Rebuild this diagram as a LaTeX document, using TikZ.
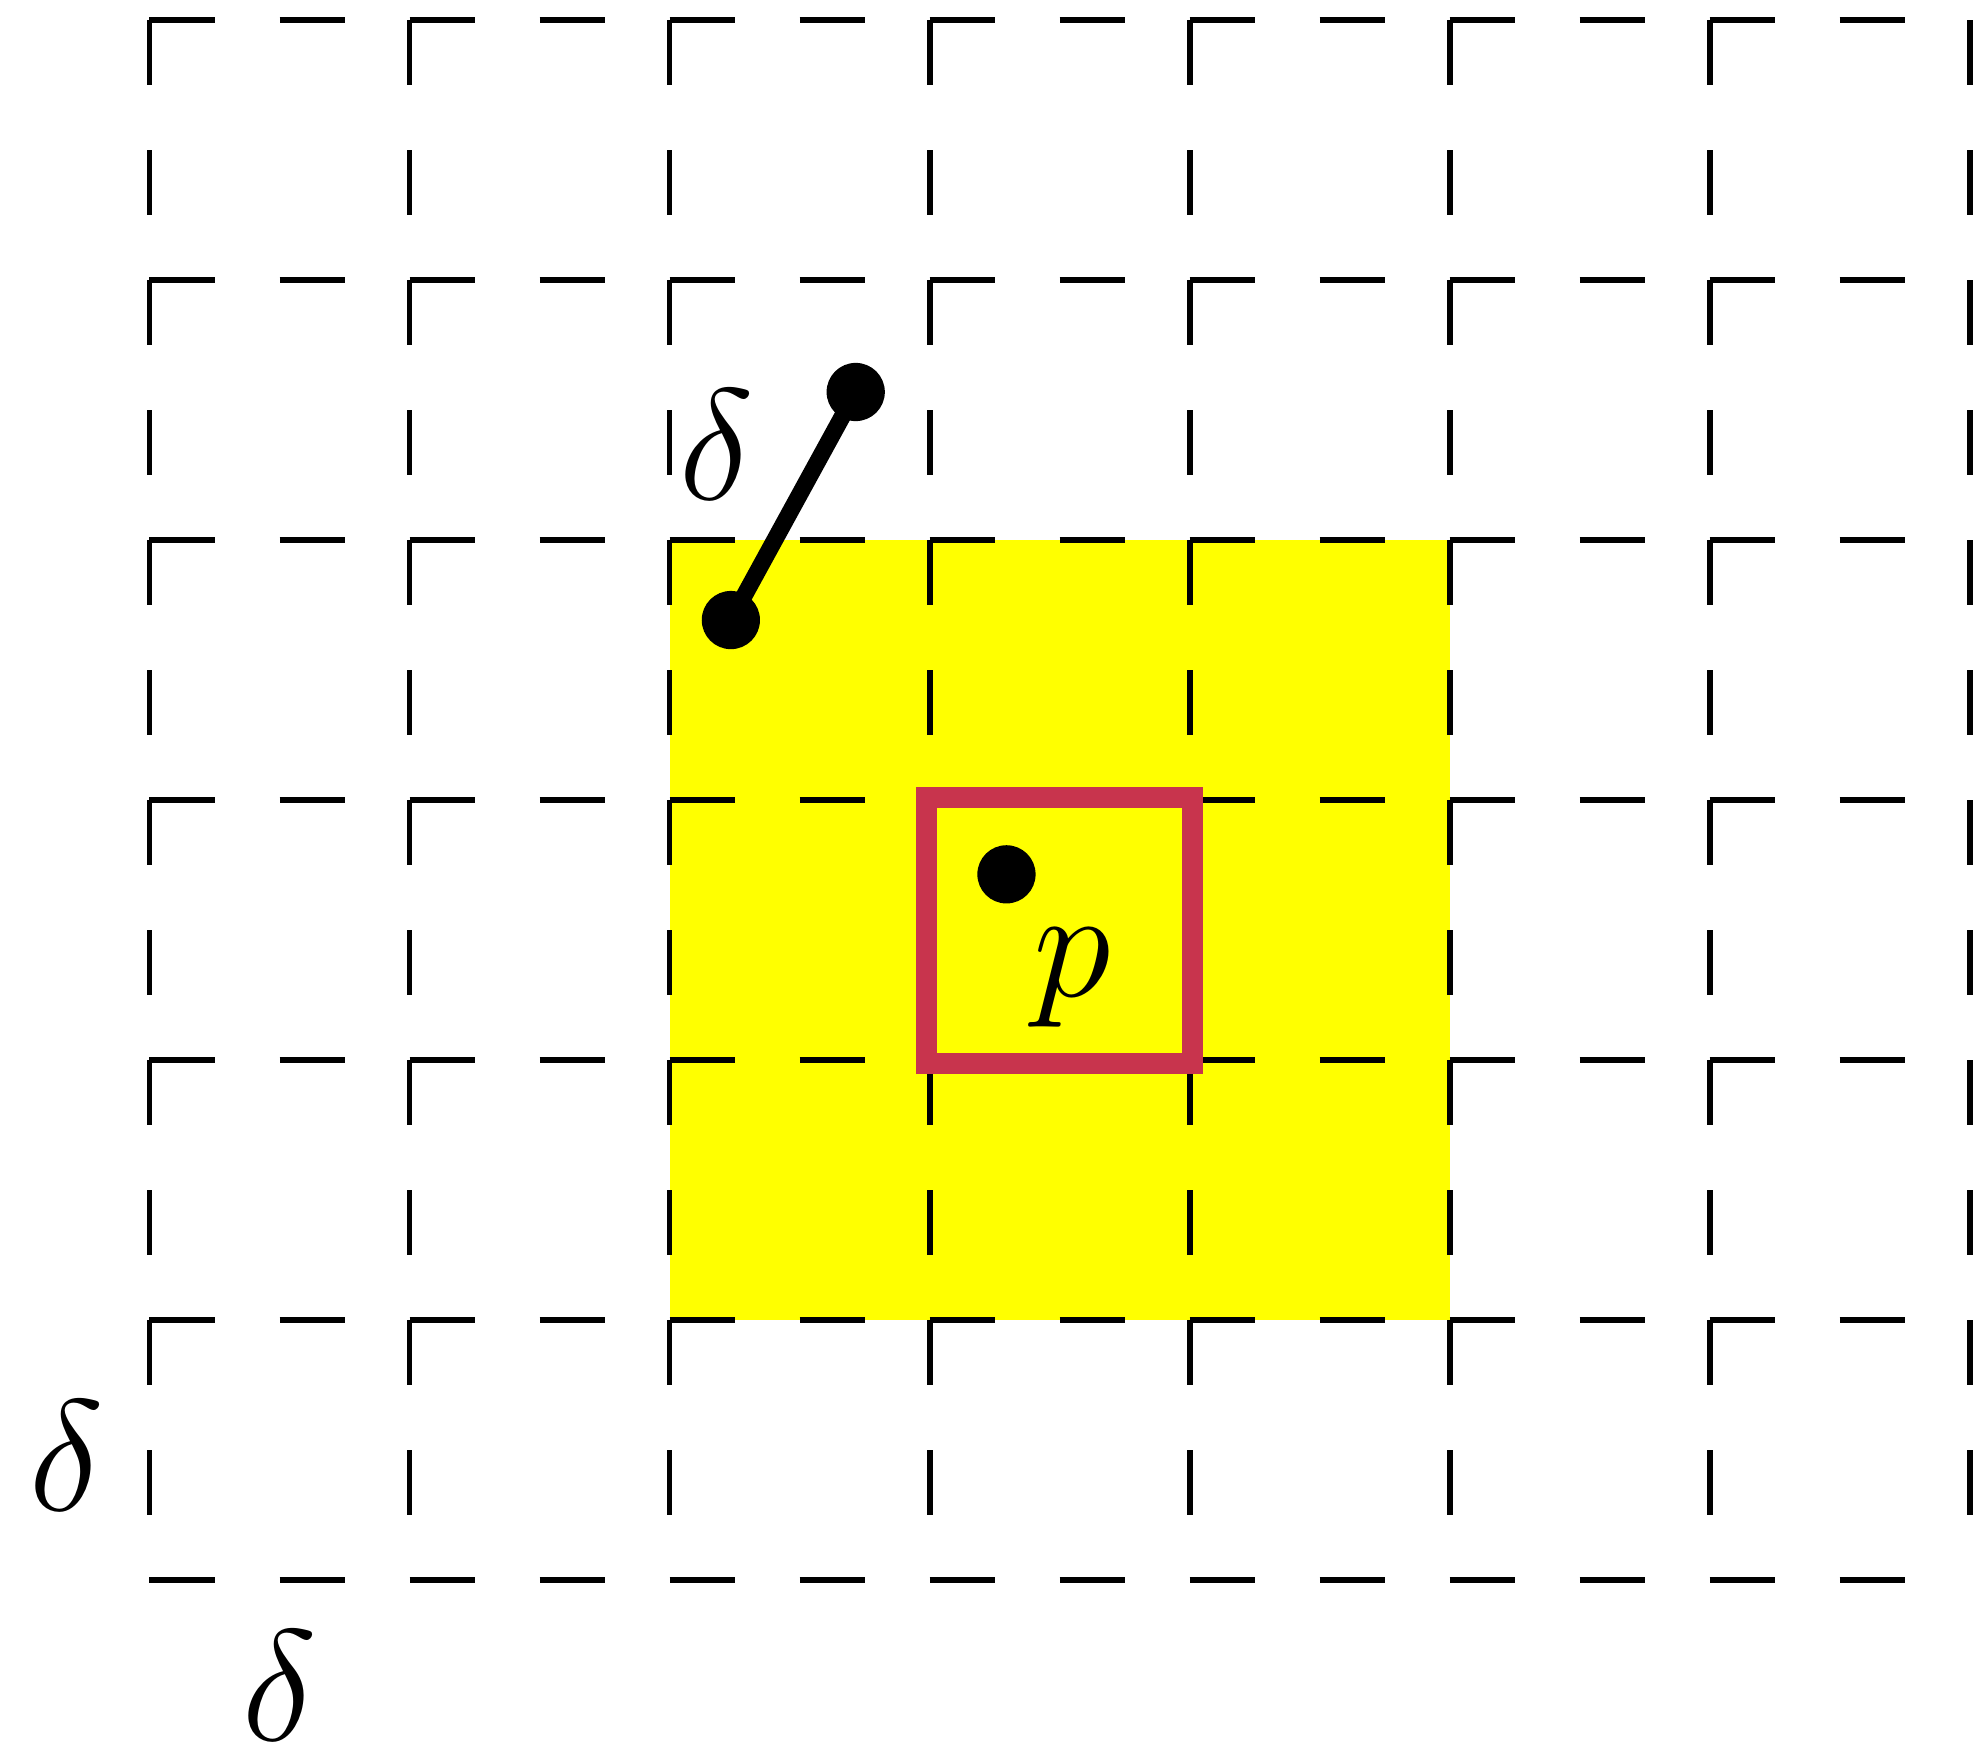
\documentclass[tikz,border=0pt]{standalone}
\usetikzlibrary{calc}
\definecolor{boxred}{RGB}{200,52,77}
\definecolor{fieldyellow}{RGB}{255,255,0}
\tikzset{
  gridline/.style={line width=0.023cm, dash pattern=on 0.25cm off 0.25cm},
  redbox/.style={draw=boxred, line width=0.081cm},
  seg/.style={line width=0.065cm},
  dot/.style={circle, fill=black, inner sep=0pt, minimum size=0.224cm},
  lbl/.style={anchor=base, inner sep=0pt, font=\fontsize{17.8}{20}\selectfont}
}
\begin{document}
\begin{tikzpicture}
\useasboundingbox (-0.575,-0.626) rectangle (7.071,6.078);
% yellow region
\fill[fieldyellow] (2,1) rectangle (5,4);
% dashed grid
\foreach \y in {0,...,6} \draw[gridline] (0,\y) -- (6.9,\y);
\foreach \x in {0,...,7} \draw[gridline] (\x,6) -- (\x,0.1);
% red cell
\draw[redbox] (2.987,1.988) rectangle (4.011,3.012);
% point p
\node[dot] (p) at (3.296,2.715) {};
\node[lbl] (plabel) at (3.55,2.245) {$p$};
% segment of length delta
\coordinate (a) at (2.236,3.693);
\path (a) ++(61.3:1) coordinate (b);
\node[dot] (da) at (a) {};
\node[dot] (db) at (b) {};
\draw[seg] (da.center) -- (db.center);
\node[lbl] (dseg) at (2.182,4.155) {$\delta$};
% delta labels
\node[lbl] (dleft) at (-0.32,0.27) {$\delta$};
\node[lbl] (dbottom) at (0.502,-0.616) {$\delta$};
\end{tikzpicture}
\end{document}
